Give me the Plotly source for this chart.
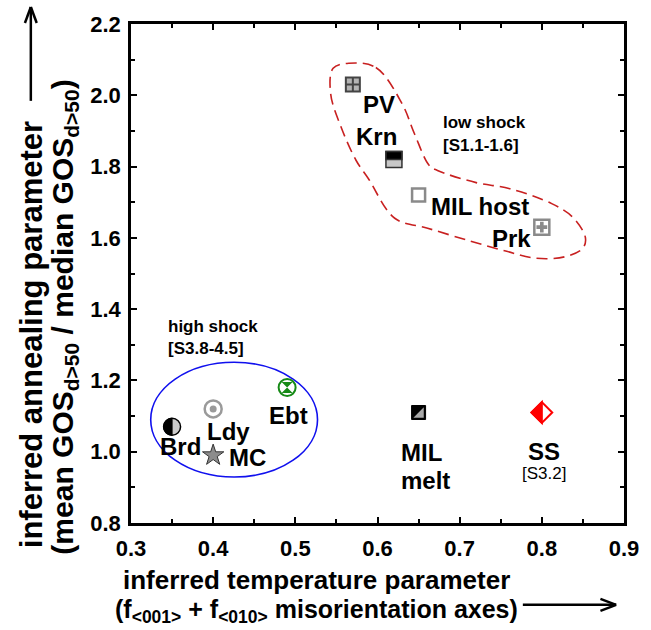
import plotly.graph_objects as go

# ---------------- data ----------------
samples = ["PV", "Krn", "MIL host", "Prk", "Brd", "Ldy", "MC", "Ebt", "MIL melt", "SS"]
temperature_param = [0.57, 0.62, 0.65, 0.80, 0.35, 0.40, 0.40, 0.49, 0.65, 0.80]
annealing_param = [2.03, 1.82, 1.72, 1.63, 1.07, 1.12, 0.99, 1.18, 1.11, 1.11]

x_ticks = [0.3, 0.4, 0.5, 0.6, 0.7, 0.8, 0.9]
y_ticks = [0.8, 1.0, 1.2, 1.4, 1.6, 1.8, 2.0, 2.2]

# low-shock group outline (dashed), data coordinates
low_shock_x = [0.565, 0.598, 0.630, 0.645, 0.663, 0.673, 0.720, 0.761, 0.812, 0.838, 0.853,
               0.850, 0.828, 0.792, 0.756, 0.713, 0.661, 0.621, 0.589, 0.574, 0.556, 0.543, 0.546, 0.565]
low_shock_y = [2.090, 2.078, 1.976, 1.892, 1.803, 1.789, 1.755, 1.738, 1.696, 1.657, 1.601,
               1.571, 1.547, 1.543, 1.563, 1.591, 1.627, 1.655, 1.766, 1.817, 1.909, 2.004, 2.076, 2.090]
# high-shock group ellipse bounds
high_shock_x = [0.324, 0.527]
high_shock_y = [0.929, 1.251]

# ---------------- styles ----------------
FONT = "Liberation Sans, Arial, sans-serif"
GREY = "#b4b4b4"
DARK = "#333333"

marker_style = {
    "PV": dict(symbol="square-cross", size=14, color=GREY, line=dict(color="#444", width=2)),
    "Krn": dict(symbol="square", size=16, color="#c8c8c8", line=dict(color=DARK, width=1.5)),
    "MIL host": dict(symbol="square-open", size=13, color="#8a8a8a", line=dict(color="#8a8a8a", width=2.5)),
    "Prk": dict(symbol="square", size=15, color="white", line=dict(color="#8a8a8a", width=2.5)),
    "Brd": dict(symbol="circle", size=17, color="#cccccc", line=dict(color="black", width=1.5)),
    "Ldy": dict(symbol="circle", size=17, color="white", line=dict(color="#9a9a9a", width=2.5)),
    "MC": dict(symbol="star", size=16, color="#8c8c8c", line=dict(color=DARK, width=1)),
    "Ebt": dict(symbol="circle", size=17, color="white", line=dict(color="#168a16", width=2)),
    "MIL melt": dict(symbol="square", size=14, color="black", line=dict(color="black", width=1)),
    "SS": dict(symbol="diamond", size=16, color="white", line=dict(color="#ff0000", width=2)),
}
overlay_style = {
    "Prk": dict(symbol="cross", size=9, color="#8a8a8a", line=dict(width=0)),
    "Ldy": dict(symbol="circle", size=7, color="#9a9a9a", line=dict(width=0)),
    "Ebt": dict(symbol="hourglass", size=11, color="#168a16", line=dict(width=0)),
}
# label offsets in pixels (xshift, yshift) and anchors
label_style = {
    "PV": [("PV", 26, -20, "center")],
    "Krn": [("Krn", -17, 23, "center")],
    "MIL host": [("MIL host", 61, -11, "center")],
    "Prk": [("Prk", -30, -11, "center")],
    "Brd": [("Brd", 8, -20, "center")],
    "Ldy": [("Ldy", 15, -23, "center")],
    "MC": [("MC", 34, -2, "center")],
    "Ebt": [("Ebt", 1, -28, "center")],
    "MIL melt": [("MIL", -20, -40, "left"), ("melt", -20, -68, "left")],
    "SS": [("SS", 2, -39, "center")],
}

FIG_W, FIG_H = 651, 630
L, T, W, H = 131, 23, 502, 500

fig = go.Figure()

# group outlines
fig.add_trace(go.Scatter(x=low_shock_x, y=low_shock_y, mode="lines",
                         line=dict(color="#c82020", width=1.6, dash="11px,6px", shape="spline", smoothing=1.0),
                         hoverinfo="skip", showlegend=False))
fig.add_shape(type="circle", xref="x", yref="y",
              x0=high_shock_x[0], x1=high_shock_x[1], y0=high_shock_y[0], y1=high_shock_y[1],
              line=dict(color="#1010ee", width=1.6), layer="below")

for name, xv, yv in zip(samples, temperature_param, annealing_param):
    fig.add_trace(go.Scatter(x=[xv], y=[yv], mode="markers", marker=marker_style[name],
                             showlegend=False, hoverinfo="skip"))
    if name in overlay_style:
        fig.add_trace(go.Scatter(x=[xv], y=[yv], mode="markers", marker=overlay_style[name],
                                 showlegend=False, hoverinfo="skip"))
    for txt, dx, dy, anc in label_style[name]:
        fig.add_annotation(x=xv, y=yv, xref="x", yref="y", text=txt, showarrow=False,
                           xshift=dx, yshift=dy, xanchor=anc, yanchor="middle",
                           font=dict(family=FONT, size=24, color="black", weight="bold"))

# half-filled marker parts as pixel-sized shapes anchored at the data points
def px_shape(name, **kw):
    i = samples.index(name)
    fig.add_shape(xref="x", yref="y", xsizemode="pixel", ysizemode="pixel",
                  xanchor=temperature_param[i], yanchor=annealing_param[i], **kw)

# Krn: top half black
px_shape("Krn", type="rect", x0=-8, x1=8, y0=0, y1=8, fillcolor="black", line=dict(color=DARK, width=1.5))
# Brd: left half black
r = 8.5; k = 0.5523 * r
px_shape("Brd", type="path",
         path=f"M 0,{r} C {-k},{r} {-r},{k} {-r},0 C {-r},{-k} {-k},{-r} 0,{-r} Z",
         fillcolor="black", line=dict(color="black", width=1))
# MIL melt: grey lower-right triangle
t = 5.2
px_shape("MIL melt", type="path", path=f"M {t},{t} L {t},{-t} L {-t},{-t} Z",
         fillcolor="#a8a8a8", line=dict(width=0))
# SS: left half red
d = 10.4
px_shape("SS", type="path", path=f"M 0,{d} L {-d},0 L 0,{-d} Z",
         fillcolor="#ff0000", line=dict(color="#ff0000", width=2))

# SS sub-label
i_ss = samples.index("SS")
fig.add_annotation(x=temperature_param[i_ss], y=annealing_param[i_ss], text="[S3.2]", showarrow=False,
                   xshift=2, yshift=-61, font=dict(family=FONT, size=17, color="black"))

# group annotations
grp_font = dict(family=FONT, size=17, color="black", weight="bold")
fig.add_annotation(x=0.6775, y=1.923, text="low shock", showarrow=False, xanchor="left", font=grp_font)
fig.add_annotation(x=0.6775, y=1.858, text="[S1.1-1.6]", showarrow=False, xanchor="left", font=grp_font)
fig.add_annotation(x=0.343, y=1.35, text="high shock", showarrow=False, xanchor="left", font=grp_font)
fig.add_annotation(x=0.343, y=1.29, text="[S3.8-4.5]", showarrow=False, xanchor="left", font=grp_font)


def px2paper(px, py):
    return (px - L) / W, (T + H - py) / H


title_font = dict(family=FONT, size=26, color="black", weight="bold")
title2_font = dict(family=FONT, size=25, color="black", weight="bold")
ytitle1_font = dict(family=FONT, size=31, color="black", weight="bold")
ytitle2_font = dict(family=FONT, size=30, color="black", weight="bold")

x1, y1 = px2paper(320, 580)
fig.add_annotation(x=x1, y=y1, xref="paper", yref="paper", showarrow=False,
                   text="inferred temperature parameter", font=title_font, xanchor="center", yanchor="middle")
x2, y2 = px2paper(320, 611)
fig.add_annotation(x=x2, y=y2, xref="paper", yref="paper", showarrow=False,
                   text="(f<sub>&lt;001&gt;</sub> + f<sub>&lt;010&gt;</sub> misorientation axes)",
                   font=title2_font, xanchor="center", yanchor="middle")
x3, y3 = px2paper(30, 334)
fig.add_annotation(x=x3, y=y3, xref="paper", yref="paper", showarrow=False, textangle=-90,
                   text="inferred annealing parameter", font=ytitle1_font, xanchor="center", yanchor="middle")
x4, y4 = px2paper(63, 317)
fig.add_annotation(x=x4, y=y4, xref="paper", yref="paper", showarrow=False, textangle=-90,
                   text="(mean GOS<sub>d&gt;50</sub> / median GOS<sub>d&gt;50</sub>)",
                   font=ytitle2_font, xanchor="center", yanchor="middle")

# arrows (open heads) in paper coordinates
def seg(a, b):
    xa, ya = px2paper(*a)
    xb, yb = px2paper(*b)
    fig.add_shape(type="line", xref="paper", yref="paper", x0=xa, y0=ya, x1=xb, y1=yb,
                  line=dict(color="black", width=2.5))

seg((29, 100), (29, 6))
seg((29, 6), (23, 22))
seg((29, 6), (35, 22))
seg((530, 605), (625, 605))
seg((625, 605), (609, 599))
seg((625, 605), (609, 611))

axis_common = dict(showline=True, linewidth=2.5, linecolor="black", mirror="ticks",
                   ticks="inside", ticklen=6, tickwidth=2, tickcolor="black",
                   showgrid=False, zeroline=False,
                   tickfont=dict(family=FONT, size=22, color="black", weight="bold"))
fig.update_xaxes(range=[0.3, 0.9], tickvals=x_ticks, ticktext=[f"{v:.1f}" for v in x_ticks],
                 minor=dict(ticks="inside", dtick=0.05, tick0=0.3, ticklen=4, tickwidth=1.5, tickcolor="black"),
                 ticklabelstandoff=4, **axis_common)
fig.update_yaxes(range=[0.8, 2.2], tickvals=y_ticks, ticktext=[f"{v:.1f}" for v in y_ticks],
                 minor=dict(ticks="inside", dtick=0.1, tick0=0.8, ticklen=4, tickwidth=1.5, tickcolor="black"),
                 ticklabelstandoff=3, **axis_common)

fig.update_layout(width=FIG_W, height=FIG_H, margin=dict(l=L, r=FIG_W - L - W, t=T, b=FIG_H - T - H),
                  plot_bgcolor="white", paper_bgcolor="white", showlegend=False)

fig.write_html("out.html", config={"displayModeBar": False},
               post_script="document.body.style.margin='0px';document.body.style.overflow='hidden';")
